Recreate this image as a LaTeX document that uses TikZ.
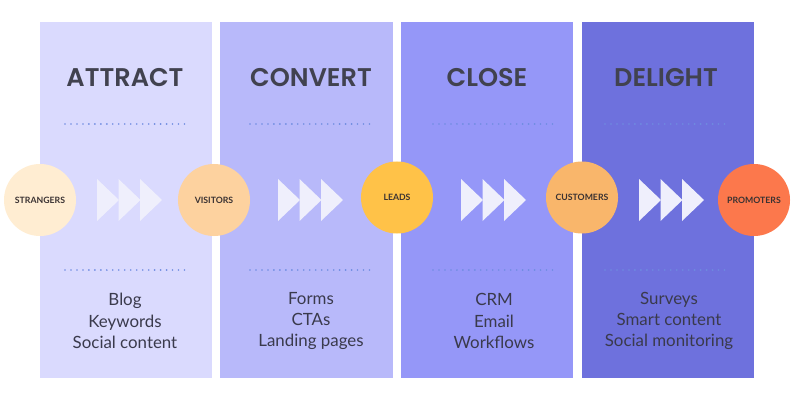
\documentclass[tikz,border=0pt]{standalone}
\usepackage{fontspec}
\setmainfont{Lato}
\newfontfamily\headfont{Poppins}[UprightFont={* SemiBold}]

\definecolor{attractbg}{HTML}{DADAFE}
\definecolor{convertbg}{HTML}{B8B9FA}
\definecolor{closebg}{HTML}{9597F8}
\definecolor{delightbg}{HTML}{6E71DD}
\definecolor{chevfill}{HTML}{EFEFFC}
\definecolor{dotblue}{HTML}{6F8CE0}
\definecolor{headtext}{HTML}{41424F}
\definecolor{tooltext}{HTML}{3A3A4C}
\definecolor{stagetext}{HTML}{3A3232}

\begin{document}
\begin{tikzpicture}[x=0.025cm, y=-0.025cm]
    \tikzstyle{column}=[rectangle, inner sep=0pt, minimum width=4.3cm, minimum height=8.9cm]
    \tikzstyle{stage}=[circle, inner sep=0pt, minimum size=1.8cm, text=stagetext, font=\bfseries\fontsize{6.2}{7}\selectfont]
    \tikzstyle{heading}=[anchor=base, inner sep=0pt, text=headtext, font=\headfont\fontsize{18.2}{20}\selectfont]
    \tikzstyle{tools}=[align=center, inner sep=0pt, text=tooltext, font=\fontsize{12}{15.2}\selectfont]
    \tikzstyle{dotrule}=[draw=dotblue, line width=1.3pt, line cap=round, dash pattern=on 0pt off 4.25pt]

    \useasboundingbox (0,0) rectangle (800,400);

% The four stages of the funnel, left to right.

    \node[column, fill=attractbg] (attract) at (126,200) {};
    \node[column, fill=convertbg] (convert) at (306.5,200) {};
    \node[column, fill=closebg] (close) at (487,200) {};
    \node[column, fill=delightbg] (delight) at (668,200) {};

    \node[heading] (attract title) at (125,87) {ATTRACT};
    \node[heading] (convert title) at (311,87) {CONVERT};
    \node[heading] (close title) at (487,87) {CLOSE};
    \node[heading] (delight title) at (666,87) {DELIGHT};

    \draw[dotrule] (65,124) -- (187,124);
    \draw[dotrule] (250,124) -- (372,124);
    \draw[dotrule] (433,124) -- (555,124);
    \draw[dotrule] (605,124) -- (727,124);
    \draw[dotrule] (65,270) -- (187,270);
    \draw[dotrule] (250,270) -- (372,270);
    \draw[dotrule] (433,270) -- (555,270);
    \draw[dotrule] (605,270) -- (727,270);

    \node[tools] (attract tools) at (125,321) {Blog\\Keywords\\Social content};
    \node[tools] (convert tools) at (311,321) {Forms\\CTAs\\Landing pages};
    \node[tools] (close tools) at (494,321) {CRM\\Email\\Workflows};
    \node[tools] (delight tools) at (669,321) {Surveys\\Smart content\\Social monitoring};

    \foreach \s in {97,278,461,639}
        \foreach \k in {0,1,2}
            \fill[chevfill] (\s+21.5*\k,179) -- (\s+21.5*\k+22,200) -- (\s+21.5*\k,221) -- cycle;

    \node[stage, fill={rgb,255:red,255;green,237;blue,210}] (strangers) at (40,200) {STRANGERS};
    \node[stage, fill={rgb,255:red,253;green,210;blue,159}] (visitors) at (214,200) {VISITORS};
    \node[stage, fill={rgb,255:red,255;green,194;blue,72}] (leads) at (397,197.5) {LEADS};
    \node[stage, fill={rgb,255:red,249;green,182;blue,107}] (customers) at (582,197.5) {CUSTOMERS};
    \node[stage, fill={rgb,255:red,252;green,120;blue,76}] (promoters) at (754,200) {PROMOTERS};

\end{tikzpicture}
\end{document}
